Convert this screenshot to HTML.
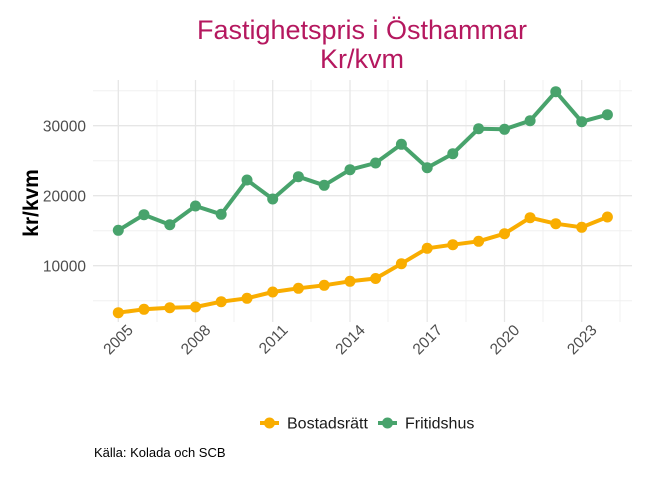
<!DOCTYPE html>
<html><head><meta charset="utf-8"><style>body{margin:0;background:#fff}svg{display:block}</style></head><body>
<svg width="672" height="480" xmlns="http://www.w3.org/2000/svg" font-family="Liberation Sans, sans-serif">
<rect width="672" height="480" fill="#fff"/>
<g stroke="#f0f0f0" stroke-width="1">
<line x1="93" x2="632" y1="90.7" y2="90.7"/><line x1="93" x2="632" y1="160.7" y2="160.7"/><line x1="93" x2="632" y1="230.7" y2="230.7"/><line x1="93" x2="632" y1="300.7" y2="300.7"/>
<line x1="157" x2="157" y1="80" y2="322"/><line x1="234" x2="234" y1="80" y2="322"/><line x1="311" x2="311" y1="80" y2="322"/><line x1="388" x2="388" y1="80" y2="322"/><line x1="466" x2="466" y1="80" y2="322"/><line x1="543" x2="543" y1="80" y2="322"/><line x1="620" x2="620" y1="80" y2="322"/>
</g>
<g stroke="#e6e6e6" stroke-width="1.3">
<line x1="93" x2="632" y1="125.7" y2="125.7"/><line x1="93" x2="632" y1="195.7" y2="195.7"/><line x1="93" x2="632" y1="265.7" y2="265.7"/>
<line x1="118.3" x2="118.3" y1="80" y2="322"/><line x1="195.5" x2="195.5" y1="80" y2="322"/><line x1="272.7" x2="272.7" y1="80" y2="322"/><line x1="350" x2="350" y1="80" y2="322"/><line x1="427.2" x2="427.2" y1="80" y2="322"/><line x1="504.5" x2="504.5" y1="80" y2="322"/><line x1="581.7" x2="581.7" y1="80" y2="322"/>
</g>
<g fill="#4d4d4d" font-size="15.5" text-anchor="end">
<text x="86" y="131.5">30000</text><text x="86" y="201.5">20000</text><text x="86" y="271.5">10000</text>
<text transform="translate(134,331) rotate(-45)">2005</text>
<text transform="translate(211.5,331) rotate(-45)">2008</text>
<text transform="translate(288.7,331) rotate(-45)">2011</text>
<text transform="translate(366,331) rotate(-45)">2014</text>
<text transform="translate(443.2,331) rotate(-45)">2017</text>
<text transform="translate(520.5,331) rotate(-45)">2020</text>
<text transform="translate(597.7,331) rotate(-45)">2023</text>
</g>
<text transform="translate(38,203) rotate(-90)" text-anchor="middle" font-size="21" font-weight="bold" fill="#000">kr/kvm</text>
<text x="362" y="39" text-anchor="middle" font-size="27" fill="#b5185f">Fastighetspris i Östhammar</text>
<text x="362" y="68" text-anchor="middle" font-size="27" fill="#b5185f">Kr/kvm</text>
<g fill="none" stroke-width="4" stroke-linejoin="round">
<polyline stroke="#f9ad00" points="118.3,312.7 144,309.3 169.8,307.7 195.5,307 221.2,301.7 247,298.3 272.7,292 298.4,288.3 324.2,285.3 350,281.3 375.6,278.5 401.4,263.7 427.2,248.3 452.8,244.7 478.6,241.3 504.5,233.7 530.1,217.7 555.8,223.7 581.7,227.3 607.4,217"/>
<polyline stroke="#48a36c" points="118.3,230.3 144,214.7 169.8,224.7 195.5,206 221.2,214.3 247,180 272.7,199 298.4,176.7 324.2,185.3 350,169.7 375.6,163 401.4,144.3 427.2,167.7 452.8,153.7 478.6,128.7 504.5,129.3 530.1,120.7 555.8,91.7 581.7,121.7 607.4,114.7"/>
</g>
<g fill="#f9ad00">
<circle cx="118.3" cy="312.7" r="5.5"/><circle cx="144" cy="309.3" r="5.5"/><circle cx="169.8" cy="307.7" r="5.5"/><circle cx="195.5" cy="307" r="5.5"/><circle cx="221.2" cy="301.7" r="5.5"/><circle cx="247" cy="298.3" r="5.5"/><circle cx="272.7" cy="292" r="5.5"/><circle cx="298.4" cy="288.3" r="5.5"/><circle cx="324.2" cy="285.3" r="5.5"/><circle cx="350" cy="281.3" r="5.5"/><circle cx="375.6" cy="278.5" r="5.5"/><circle cx="401.4" cy="263.7" r="5.5"/><circle cx="427.2" cy="248.3" r="5.5"/><circle cx="452.8" cy="244.7" r="5.5"/><circle cx="478.6" cy="241.3" r="5.5"/><circle cx="504.5" cy="233.7" r="5.5"/><circle cx="530.1" cy="217.7" r="5.5"/><circle cx="555.8" cy="223.7" r="5.5"/><circle cx="581.7" cy="227.3" r="5.5"/><circle cx="607.4" cy="217" r="5.5"/>
</g>
<g fill="#48a36c">
<circle cx="118.3" cy="230.3" r="5.5"/><circle cx="144" cy="214.7" r="5.5"/><circle cx="169.8" cy="224.7" r="5.5"/><circle cx="195.5" cy="206" r="5.5"/><circle cx="221.2" cy="214.3" r="5.5"/><circle cx="247" cy="180" r="5.5"/><circle cx="272.7" cy="199" r="5.5"/><circle cx="298.4" cy="176.7" r="5.5"/><circle cx="324.2" cy="185.3" r="5.5"/><circle cx="350" cy="169.7" r="5.5"/><circle cx="375.6" cy="163" r="5.5"/><circle cx="401.4" cy="144.3" r="5.5"/><circle cx="427.2" cy="167.7" r="5.5"/><circle cx="452.8" cy="153.7" r="5.5"/><circle cx="478.6" cy="128.7" r="5.5"/><circle cx="504.5" cy="129.3" r="5.5"/><circle cx="530.1" cy="120.7" r="5.5"/><circle cx="555.8" cy="91.7" r="5.5"/><circle cx="581.7" cy="121.7" r="5.5"/><circle cx="607.4" cy="114.7" r="5.5"/>
</g>
<line x1="260" x2="279" y1="423" y2="423" stroke="#f9ad00" stroke-width="4"/><circle cx="269.5" cy="423" r="5.5" fill="#f9ad00"/>
<text x="287" y="428.5" font-size="16" fill="#1a1a1a">Bostadsrätt</text>
<line x1="378" x2="397" y1="423" y2="423" stroke="#48a36c" stroke-width="4"/><circle cx="387.5" cy="423" r="5.5" fill="#48a36c"/>
<text x="405" y="428.5" font-size="16" fill="#1a1a1a">Fritidshus</text>
<text x="94" y="457" font-size="13" fill="#000">Källa: Kolada och SCB</text>
</svg>
</body></html>
